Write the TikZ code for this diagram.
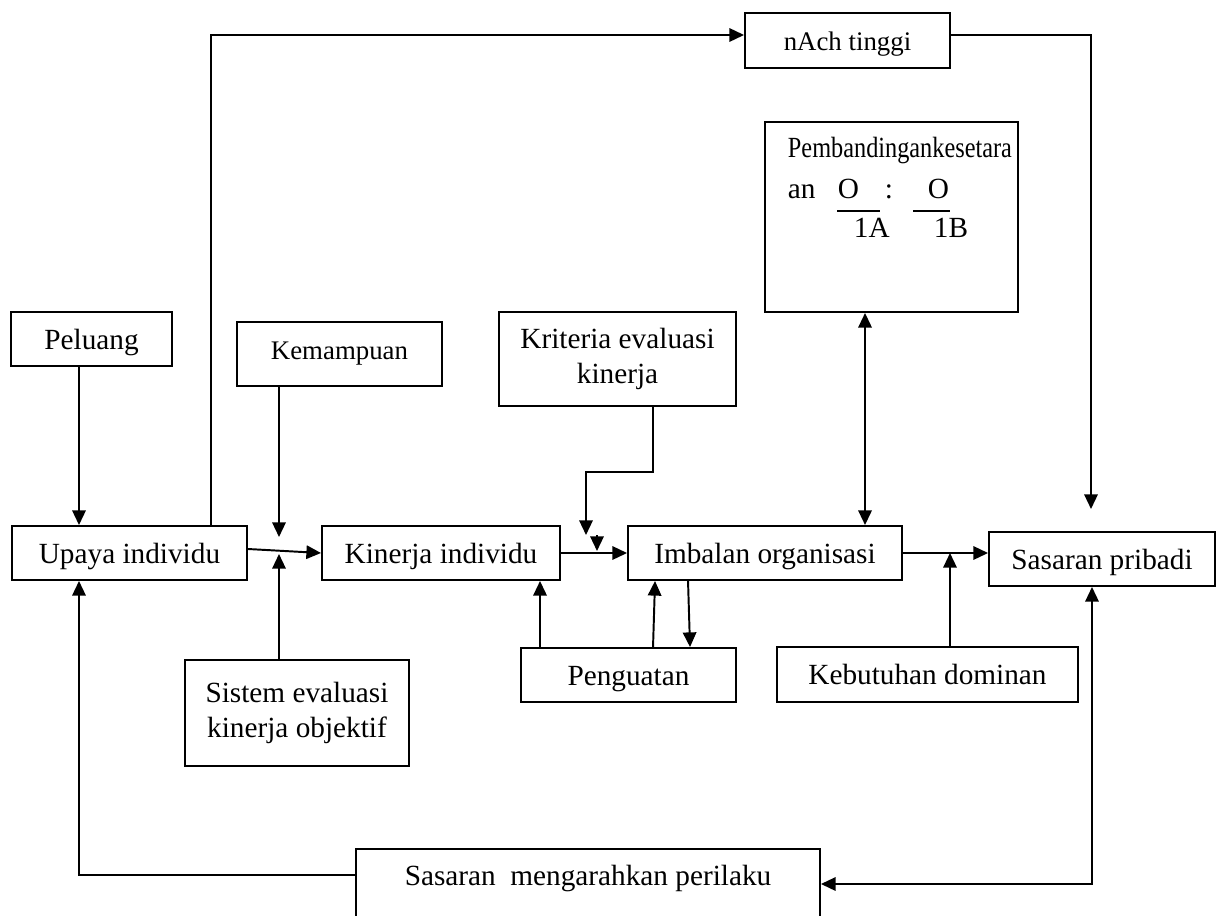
\documentclass[tikz,border=0pt]{standalone}
\usepackage{fontspec}
\usepackage{graphicx}
\setmainfont{Liberation Serif}
\usetikzlibrary{arrows.meta,calc}

\begin{document}
\begin{tikzpicture}[x=0.41pt, y=-0.41pt, line width=0.8pt,
  kotak/.style 2 args={draw, inner sep=0pt, minimum width=#1*0.41pt, minimum height=#2*0.41pt, font=\fontsize{12}{14}\selectfont, align=center},
  baris/.style={text height=10pt, text depth=1.4pt},
  teks/.style={anchor=base west, inner sep=0pt, font=\fontsize{12}{14}\selectfont},
  panah/.style={-{Triangle[length=6pt,width=5.5pt]}},
  duapanah/.style={{Triangle[length=6pt,width=5.5pt]}-{Triangle[length=6pt,width=5.5pt]}}]
\clip (0,0) rectangle (1217,916); % page

% boxes
\node[kotak={205}{55}, baris, font=\fontsize{11}{13}\selectfont] (nach) at (847.5,40.5) {nAch tinggi};
\node[kotak={253}{190}] (banding) at (891.5,217) {};
\node[teks] (bandingA) at (787,157) {\scalebox{0.83}[1]{Pembandingankesetara}};
\node[teks] (bandingB) at (787,198) {an};
\node[teks] (oA) at (837,198) {O};
\node[teks] (titik) at (884,198) {:};
\node[teks] (oB) at (927,198) {O};
\node[teks] (satuA) at (853,237) {1A};
\node[teks] (satuB) at (933,237) {1B};
\draw (837,211) -- (880,211); % bar under O
\draw (913,211) -- (950,211); % bar under O

\node[kotak={161}{54}, baris] (peluang) at (91.5,339) {Peluang};
\node[kotak={205}{64}, font=\fontsize{11}{13}\selectfont] (kemampuan) at (339.5,354) {Kemampuan};
\node[kotak={237}{94}] (kriteria) at (617.5,359) {Kriteria evaluasi\\kinerja};
\node[kotak={235}{54}, baris] (upaya) at (129.5,553) {Upaya individu};
\node[kotak={238}{54}, baris] (kinerja) at (441,553) {Kinerja individu};
\node[kotak={274}{54}, baris] (imbalan) at (765,553) {Imbalan organisasi};
\node[kotak={226}{54}, baris] (pribadi) at (1102,559) {Sasaran pribadi};
\node[kotak={215}{54}, baris] (penguatan) at (628.5,675) {Penguatan};
\node[kotak={301}{55}, baris] (kebutuhan) at (927.5,674.5) {Kebutuhan dominan};
\node[kotak={224}{106}] (sistem) at (297,713) {Sistem evaluasi\\kinerja objektif};
\node[kotak={464}{1}, anchor=north, text height=15pt, text depth=18.6pt] (sasaran) at (588,848) {Sasaran\ \ mengarahkan perilaku};

% turning points and free ends
\coordinate (kiri) at (79,0);
\coordinate (atas) at (211,35);
\coordinate (kanan) at (1091,35);
\coordinate (ujungnach) at (1091,509);
\coordinate (ujungkemampuan) at (279,537);
\coordinate (ujungsistem) at (279,554);
\coordinate (belokA) at (653,472);
\coordinate (belokB) at (586,472);
\coordinate (ujungkriteria) at (586,535);
\coordinate (ujungkecil) at (597,551);
\coordinate (ujungkebutuhan) at (950,553);
\coordinate (bawahkanan) at (1092,884);
\coordinate (bawahkiri) at (79,875);

% connectors
\draw[panah] (peluang.south -| kiri) -- (upaya.north -| kiri); % Peluang
\draw[panah] (upaya.north -| atas) -- (atas) -- (nach.west |- atas); % to nAch
\draw[panah] (nach.east |- kanan) -- (kanan) -- (ujungnach); % nAch down
\draw[panah] (kemampuan.south -| ujungkemampuan) -- (ujungkemampuan); % Kemampuan
\draw[panah] (sistem.north -| ujungsistem) -- (ujungsistem); % Sistem
\draw[panah] ($(upaya.east)+(0,-4)$) -- (kinerja.west);
\draw[panah] (kinerja.east) -- (imbalan.west);
\draw[panah] (kriteria.south -| belokA) -- (belokA) -- (belokB) -- (ujungkriteria); % Kriteria
\draw[panah] ($(ujungkecil)+(0,-16)$) -- (ujungkecil); % small head
\draw[panah] ($(penguatan.north west)+(20,0)$) -- ($(kinerja.south west)+(219,0)$);
\draw[panah] ($(penguatan.north west)+(133,0)$) -- ($(imbalan.south west)+(28,0)$);
\draw[panah] ($(imbalan.south west)+(61,0)$) -- ($(penguatan.north west)+(170,0)$);
\draw[panah] (imbalan.east) -- (imbalan.east -| pribadi.west);
\draw[panah] (kebutuhan.north -| ujungkebutuhan) -- (ujungkebutuhan); % Kebutuhan
\draw[duapanah] ($(banding.south west)+(101,0)$) -- ($(imbalan.north west)+(238,0)$);
\draw[duapanah] (pribadi.south -| bawahkanan) -- (bawahkanan) -- (sasaran.east |- bawahkanan);
\draw[panah] (sasaran.west |- bawahkiri) -- (bawahkiri) -- (upaya.south -| kiri); % back to Upaya

\end{tikzpicture}
\end{document}
